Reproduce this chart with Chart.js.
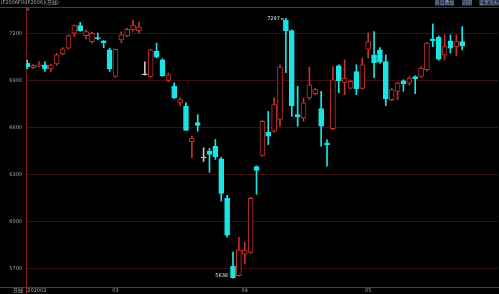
<!DOCTYPE html>
<html>
<head>
<meta charset="utf-8">
<script src="https://cdn.jsdelivr.net/npm/chart.js@4.4.0/dist/chart.umd.min.js"></script>
<style>
    html, body { margin: 0; padding: 0; background: #000; }
    #wrap { width: 499px; height: 294px; }
</style>
</head>
<body>
<div id="wrap"><canvas id="kline"></canvas></div>
<script>
'use strict';

// Trading days (month-day), Feb 10 to May 28 2020
const dates = [
    '02-10', '02-11', '02-12', '02-13', '02-14', '02-17', '02-18', '02-19', '02-20', '02-21',
    '02-24', '02-25', '02-26', '02-27', '02-28',
    '03-02', '03-03', '03-04', '03-05', '03-06', '03-09', '03-10', '03-11', '03-12', '03-13',
    '03-16', '03-17', '03-18', '03-19', '03-20', '03-23', '03-24', '03-25', '03-26', '03-27',
    '03-30', '03-31',
    '04-01', '04-02', '04-03', '04-07', '04-08', '04-09', '04-10', '04-13', '04-14', '04-15',
    '04-16', '04-17', '04-20', '04-21', '04-22', '04-23', '04-24', '04-27', '04-28', '04-29',
    '04-30',
    '05-06', '05-07', '05-08', '05-11', '05-12', '05-13', '05-14', '05-15', '05-18', '05-19',
    '05-20', '05-21', '05-22', '05-25', '05-26', '05-27', '05-28'
];

const openPrices = [
    7010, 6982, 6990, 7001, 6975, 7007, 7071, 7107, 7202, 7251,
    7187, 7149, 7175, 7154, 7096, 6926, 7160, 7185, 7224, 7219,
    6937, 6926, 7087, 7033, 6901, 6863, 6757, 6735, 6509, 6631,
    6405, 6449, 6479, 6400, 6148, 5713, 5653, 5791, 5802, 6351,
    6421, 6570, 6576, 6651, 7287, 7219, 6682, 6661, 6789, 6816,
    6721, 6502, 6593, 6994, 6888, 6852, 6958, 6850, 7101, 7064,
    7096, 7022, 6778, 6831, 6899, 6884, 6926, 6926, 6969, 7166,
    7177, 7064, 7154, 7117, 7149
];
const highPrices = [
    7030, 7003, 7022, 7022, 7005, 7075, 7110, 7192, 7255, 7272,
    7224, 7210, 7204, 7156, 7107, 7102, 7211, 7236, 7287, 7274,
    7020, 7100, 7139, 7040, 6948, 6886, 6791, 6759, 6544, 6682,
    6471, 6466, 6523, 6410, 6167, 5804, 5899, 5868, 6155, 6355,
    6645, 6703, 6789, 7001, 7297, 7224, 6863, 6789, 6986, 6850,
    6831, 6523, 6990, 7001, 7033, 6905, 7001, 7045, 7204, 7213,
    7110, 7064, 6850, 6890, 6905, 6925, 6930, 6990, 7145, 7262,
    7185, 7192, 7192, 7192, 7245
];
const lowPrices = [
    6975, 6976, 6985, 6958, 6956, 6997, 7065, 7100, 7181, 7215,
    7166, 7141, 7160, 7109, 6958, 6920, 7141, 7179, 7215, 7205,
    6935, 6920, 7045, 6926, 6892, 6785, 6740, 6581, 6407, 6576,
    6383, 6313, 6396, 6130, 5899, 5638, 5650, 5728, 5795, 6173,
    6415, 6491, 6568, 6608, 6950, 6672, 6608, 6640, 6778, 6810,
    6481, 6353, 6585, 6822, 6810, 6845, 6810, 6845, 7045, 6918,
    7010, 6740, 6770, 6778, 6831, 6870, 6816, 6920, 6960, 7117,
    7030, 7033, 7075, 7058, 7096
];
const closePrices = [
    6988, 6998, 7001, 6975, 7001, 7064, 7103, 7187, 7251, 7219,
    7213, 7202, 7166, 7141, 6975, 7100, 7192, 7228, 7255, 7243,
    6937, 7096, 7049, 6931, 6937, 6789, 6778, 6582, 6530, 6614,
    6405, 6428, 6413, 6179, 5912, 5640, 5817, 5817, 6148, 6326,
    6640, 6544, 6746, 6986, 7219, 6740, 6668, 6757, 6873, 6842,
    6608, 6491, 6905, 6899, 6916, 6895, 6846, 7001, 7149, 7015,
    7018, 6782, 6842, 6884, 6878, 6916, 6912, 6980, 7139, 7154,
    7037, 7117, 7107, 7149, 7122
];

const priceTicks = [5700, 6000, 6300, 6600, 6900, 7200];
const monthLabels = ['202002', '03', '04', '05'];

// Colours
const upColor = '#c8302c';
const downColor = '#1de4e4';
const flatColor = '#c4c4c4';
const gridRed = '#3d1010';
const axisRed = '#8a1e1e';
const textGray = '#a8a8a8';

Chart.defaults.font.family = 'DejaVu Sans, "Noto Sans CJK SC", sans-serif';

// first index of every month
const monthStarts = dates.reduce((acc, d, i) => {
    if (i === 0 || d.slice(0, 2) !== dates[i - 1].slice(0, 2)) acc.push(i);
    return acc;
}, []);

function candleColor(i) {
    if (closePrices[i] > openPrices[i]) return upColor;
    if (closePrices[i] < openPrices[i]) return downColor;
    return flatColor;
}

const bodyData = dates.map((d, i) => ({ x: i, y: [openPrices[i], closePrices[i]] }));
const wickData = dates.map((d, i) => ({ x: i, y: [lowPrices[i], highPrices[i]] }));
const lineColors = dates.map((d, i) => candleColor(i));
const fillColors = dates.map((d, i) => closePrices[i] > openPrices[i] ? '#000' : candleColor(i));

// Extra lines, titles and the high/low marks
const overlayPlugin = {
    id: 'overlay',
    afterDraw(chart) {
        const ctx = chart.ctx;
        const area = chart.chartArea;
        const xs = chart.scales.x;
        const ys = chart.scales.y;
        ctx.save();

        ctx.strokeStyle = axisRed;
        ctx.lineWidth = 1;
        ctx.beginPath();
        ctx.moveTo(0, Math.round(area.top) + 0.5);
        ctx.lineTo(chart.width, Math.round(area.top) + 0.5);
        ctx.moveTo(0, Math.round(area.bottom) + 0.5);
        ctx.lineTo(area.left, Math.round(area.bottom) + 0.5);
        ctx.moveTo(Math.round(area.left) + 0.5, area.bottom);
        ctx.lineTo(Math.round(area.left) + 0.5, chart.height);
        ctx.stroke();

        ctx.font = '5px DejaVu Sans, "Noto Sans CJK SC"';
        ctx.textBaseline = 'middle';
        ctx.fillStyle = textGray;
        ctx.textAlign = 'left';
        ctx.fillText('IF2006F0(IF2006)(日线)', 1, 3);
        ctx.fillText('×', area.left, 10);
        ctx.fillText('日线', 13, 291);

        // buttons at the top right
        const buttons = [['商品叠加', 435, 19], ['周期', 462, 10], ['设置指标', 479, 20]];
        for (const [label, bx, bw] of buttons) {
            ctx.fillStyle = '#1c2436';
            ctx.fillRect(bx, 0, bw, 6);
            ctx.fillStyle = '#9aaed0';
            ctx.textAlign = 'center';
            ctx.fillText(label, bx + bw / 2, 3);
        }

        // highest high and lowest low
        const hiIdx = highPrices.indexOf(Math.max(...highPrices));
        const loIdx = lowPrices.indexOf(Math.min(...lowPrices));
        ctx.fillStyle = '#e8e8e8';
        ctx.strokeStyle = '#e8e8e8';
        ctx.textAlign = 'right';
        const hx = xs.getPixelForValue(hiIdx);
        const hy = ys.getPixelForValue(highPrices[hiIdx]);
        ctx.fillText(String(highPrices[hiIdx]), hx - 6, hy);
        ctx.beginPath();
        ctx.moveTo(hx - 5, hy + 0.5);
        ctx.lineTo(hx - 2, hy + 0.5);
        ctx.stroke();
        const lx = xs.getPixelForValue(loIdx);
        const ly = ys.getPixelForValue(lowPrices[loIdx]);
        ctx.fillText(String(lowPrices[loIdx]), lx - 5, ly - 2);

        ctx.restore();
    }
};

new Chart(document.getElementById('kline'), {
    type: 'bar',
    data: {
        datasets: [
            {
                label: 'body',
                data: bodyData,
                backgroundColor: fillColors,
                borderColor: lineColors,
                borderWidth: 1,
                borderSkipped: false,
                barThickness: 5,
                minBarLength: 1,
                grouped: false,
                order: 1
            },
            {
                label: 'wick',
                data: wickData,
                backgroundColor: lineColors,
                borderWidth: 0,
                barThickness: 1,
                grouped: false,
                order: 2
            }
        ]
    },
    options: {
        responsive: true,
        maintainAspectRatio: false,
        animation: false,
        layout: { padding: { top: 7, left: 0, right: 0, bottom: 0 } },
        plugins: {
            legend: { display: false },
            tooltip: { enabled: false }
        },
        scales: {
            x: {
                type: 'linear',
                offset: false,
                min: -0.22,
                max: 80.09,
                grid: { display: false, drawTicks: false },
                border: { display: true, color: axisRed },
                afterBuildTicks: scale => {
                    scale.ticks = monthStarts.map(v => ({ value: v })).concat([{ value: 80.09 }]);
                },
                ticks: {
                    color: textGray,
                    font: { size: 5 },
                    padding: 1,
                    maxRotation: 0,
                    autoSkip: false,
                    align: 'inner',
                    callback: (v, idx) => monthLabels[idx] || ''
                },
                afterFit: scale => { scale.height = 6; }
            },
            y: {
                min: 5581,
                max: 7370,
                grid: { color: gridRed, drawTicks: false },
                border: { color: axisRed },
                afterBuildTicks: scale => {
                    scale.ticks = priceTicks.map(v => ({ value: v }));
                },
                ticks: {
                    color: textGray,
                    font: { size: 5 },
                    padding: 4,
                    callback: v => String(v)
                },
                afterFit: scale => { scale.width = 26; }
            }
        }
    },
    plugins: [overlayPlugin]
});
</script>
</body>
</html>
